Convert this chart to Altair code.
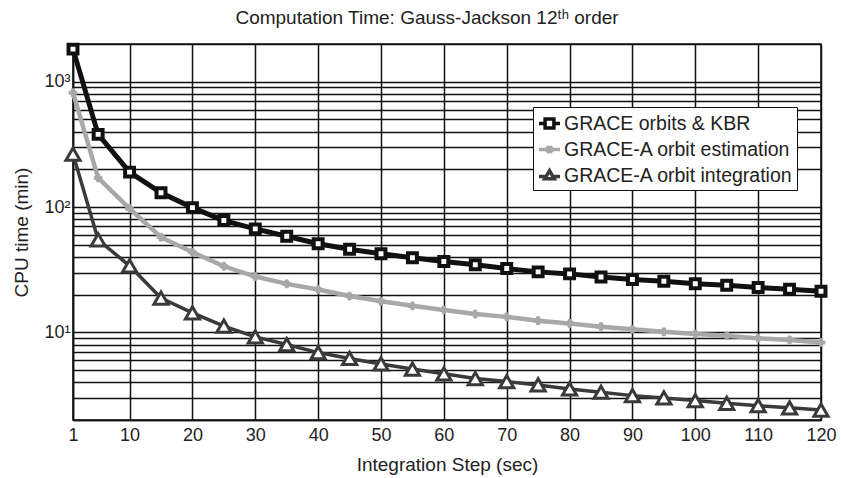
import altair as alt
import pandas as pd

# ---- data ----
steps = [1, 5, 10, 15, 20, 25, 30, 35, 40, 45, 50, 55, 60, 65, 70, 75, 80, 85,
         90, 95, 100, 105, 110, 115, 120]
kbr = [1820, 380, 190, 130, 99, 78, 67, 58.5, 51, 46.1, 42.4, 39.4, 36.8, 34.6,
       32.3, 30.4, 29.3, 27.7, 26.4, 25.6, 24.4, 23.8, 22.8, 22.1, 21.3]
est = [817, 171, 97, 57.5, 43.6, 33.7, 27.9, 24.4, 22, 19.5, 17.7, 16.3, 15.1,
       14.0, 13.3, 12.4, 11.8, 11.1, 10.6, 10.1, 9.7, 9.4, 8.96, 8.7, 8.3]
integ = [265, 54.8, 34, 18.8, 14.3, 11.2, 9.2, 8.0, 6.9, 6.2, 5.6, 5.1, 4.67,
         4.28, 4.05, 3.81, 3.54, 3.33, 3.13, 3.0, 2.86, 2.72, 2.6, 2.5, 2.4]

names = ["GRACE orbits & KBR", "GRACE-A orbit estimation", "GRACE-A orbit integration"]
colors = ["#111111", "#a8a8a8", "#3a3a3a"]

x_ticks = [1, 10, 20, 30, 40, 50, 60, 70, 80, 90, 100, 110, 120]
y_grid = [2, 3, 4, 5, 6, 7, 8, 9, 10, 20, 30, 40, 50, 60, 70, 80, 90,
          100, 200, 300, 400, 500, 600, 700, 800, 900, 1000, 2000]

rows = []
for name, vals in zip(names, [kbr, est, integ]):
    for s, v in zip(steps, vals):
        rows.append({"step": s, "value": v, "series": name})
df = pd.DataFrame(rows)

FONT = "Liberation Sans"

x_enc = alt.X("step:Q",
              scale=alt.Scale(domain=[1, 120], nice=False, zero=False),
              axis=alt.Axis(values=x_ticks, title="Integration Step (sec)",
                            grid=True, tickSize=0, labelPadding=6,
                            titlePadding=11, labelFlush=False))
y_enc = alt.Y("value:Q",
              scale=alt.Scale(type="log", domain=[2, 2000], nice=False),
              axis=alt.Axis(values=y_grid, title="CPU time (min)", grid=True,
                            tickSize=0, labelPadding=3, labelOverlap=False,
                            titlePadding=12,
                            labelExpr="datum.value == 10 ? '10\u00b9' : datum.value == 100 ? '10\u00b2' : datum.value == 1000 ? '10\u00b3' : ''"))

base = alt.Chart(df)

line_w = [5, 4.5, 3.5]
layers = []
for name, col, w in zip(names, colors, line_w):
    layers.append(base.transform_filter(alt.datum.series == name)
                  .mark_line(color=col, strokeWidth=w)
                  .encode(x=x_enc, y=y_enc))

layers.append(base.transform_filter(alt.datum.series == names[0])
              .mark_point(shape="square", size=80, fill="white", fillOpacity=1,
                          stroke=colors[0], strokeWidth=4, opacity=1)
              .encode(x=x_enc, y=y_enc))
layers.append(base.transform_filter(alt.datum.series == names[1])
              .mark_point(shape="cross", size=60, fill=colors[1], fillOpacity=1,
                          stroke=colors[1], strokeWidth=1, opacity=1)
              .encode(x=x_enc, y=y_enc))
layers.append(base.transform_filter(alt.datum.series == names[2])
              .mark_point(shape="triangle-up", size=200, fill="white", fillOpacity=1,
                          stroke=colors[2], strokeWidth=3, opacity=1)
              .encode(x=x_enc, y=y_enc))

legend_paths = [
    "M-1,0H-0.42M0.42,0H1M-0.42,-0.42H0.42V0.42H-0.42Z",
    "M-1,0H1M-0.28,-0.28L0.28,0.28M-0.28,0.28L0.28,-0.28M0,-0.36V0.36",
    "M-1,0.1H-0.45M0.45,0.1H1M-0.45,0.3L0,-0.45L0.45,0.3Z",
]
leg = alt.Legend(title=None, orient="none", legendX=460, legendY=63,
                 fillColor="white", strokeColor="#111", padding=4,
                 symbolSize=441, symbolStrokeWidth=3.5, symbolOpacity=1,
                 labelFont=FONT, labelFontSize=19.5, labelColor="#222",
                 labelOffset=2, rowPadding=2, labelLimit=400)
layers.append(base.mark_point(filled=False, opacity=0)
              .encode(x=x_enc, y=y_enc,
                       color=alt.Color("series:N",
                                       scale=alt.Scale(domain=names, range=colors),
                                       legend=leg),
                       shape=alt.Shape("series:N",
                                       scale=alt.Scale(domain=names, range=legend_paths),
                                       legend=leg)))

chart = alt.layer(*layers).properties(
    width=748, height=376,
    autosize=alt.AutoSizeParams(type="none"),
    padding={"left": 73, "top": 44, "right": 20, "bottom": 58},
    title=alt.TitleParams(text="Computation Time: Gauss-Jackson 12\u1d57\u02b0 order",
                          font=FONT, fontSize=19, fontWeight="normal",
                          color="#222", offset=7, dx=-20),
).configure_axis(
    labelFont=FONT, labelFontSize=18, labelColor="#222",
    titleFont=FONT, titleFontSize=19, titleFontWeight="normal", titleColor="#222",
    domainColor="#111", domainWidth=1.5,
    gridColor="#111111", gridWidth=1.5, gridOpacity=1,
).configure_view(stroke="#111", strokeWidth=1.5)

chart.save("out.html", embed_options={"renderer": "svg", "actions": False})
